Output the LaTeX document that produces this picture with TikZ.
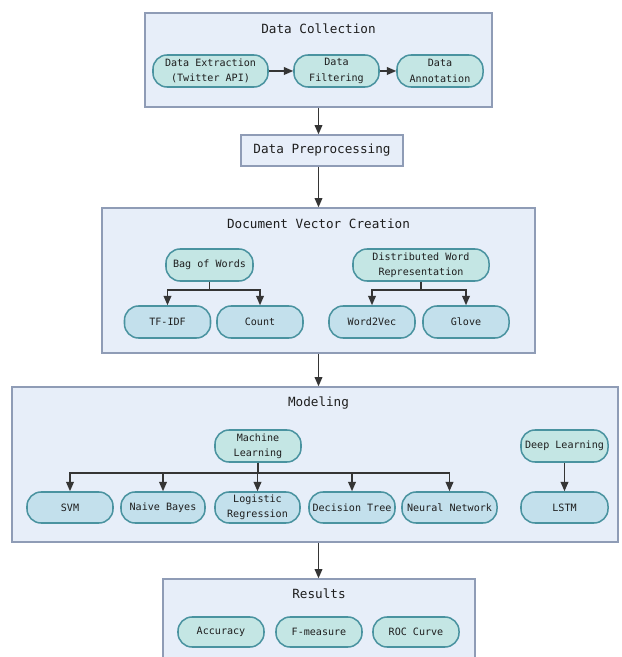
\documentclass[tikz,border=0pt]{standalone}
\usepackage{fontspec}
\setmonofont{DejaVu Sans Mono}
\usetikzlibrary{arrows.meta,positioning}
\definecolor{pnlfill}{HTML}{E7EEF9}
\definecolor{pnldraw}{HTML}{8F9CB6}
\definecolor{pillfill}{HTML}{C4E6E4}
\definecolor{leaffill}{HTML}{C3E0EC}
\definecolor{pilldraw}{HTML}{4A93A0}
\definecolor{txtdark}{HTML}{1E1E1E}
\tikzset{
  panel/.style={draw=pnldraw,fill=pnlfill,line width=1.1pt,inner sep=0pt},
  ptitle/.style={font=\ttfamily\fontsize{10.8}{13}\selectfont,text=txtdark,inner sep=1pt},
  pill/.style={rectangle,rounded corners=12pt,draw=pilldraw,fill=pillfill,line width=1.3pt,align=center,inner sep=1pt,minimum height=0.96cm,minimum width=2.58cm,font=\ttfamily\fontsize{8.6}{13}\selectfont,text=txtdark},
  leaf/.style={pill,fill=leaffill},
  ar/.style={-{Triangle[length=2.8mm,width=2.3mm]},draw=txtdark!90,line width=1.3pt},
}

\begin{document}
\begin{tikzpicture}[x=0.03cm,y=-0.03cm]
\fill[white] (0,0) rectangle (621,657);
\useasboundingbox (0,0) rectangle (621,657);
\clip (0,0) rectangle (621,657);
% panels
\node[panel,minimum width=10.41cm,minimum height=2.82cm] (dc) at (318.5,60) {};
\node[panel,ptitle,minimum width=4.86cm,minimum height=0.93cm] (pre) at (322,150.5) {Data Preprocessing};
\node[panel,minimum width=12.99cm,minimum height=4.35cm] (dvc) at (318.5,280.5) {};
\node[panel,minimum width=18.18cm,minimum height=4.65cm] (mod) at (315,464.5) {};
\node[panel,minimum width=9.36cm,minimum height=3.33cm] (res) at (319,634.5) {};
\node[ptitle] (dct) at (318.5,29) {Data Collection};
\node[ptitle] (dvct) at (318.5,224) {Document Vector Creation};
\node[ptitle] (modt) at (318.5,403) {Modeling};
\node[ptitle] (rest) at (319,594) {Results};
\draw[ar] (dc.south) -- (dc.south |- pre.north);
\draw[ar] (dc.south |- pre.south) -- (dc.south |- dvc.north);
\draw[ar] (dc.south |- dvc.south) -- (dc.south |- mod.north);
\draw[ar] (dc.south |- mod.south) -- (dc.south |- res.north);
% data collection
\node[pill,minimum width=3.45cm] (dext) at (210.5,71) {Data Extraction\\(Twitter API)};
\node[pill,minimum width=2.55cm] (dfil) at (336.5,71) {Data\\Filtering};
\node[pill] (dann) at (440,71) {Data\\Annotation};
\draw[ar] (dext) -- (dfil);
\draw[ar] (dfil) -- (dann);
% document vectors
\node[pill,minimum width=2.61cm] (bow) at (209.5,265) {Bag of Words};
\node[pill,minimum width=4.08cm] (dwr) at (421,265) {Distributed Word\\Representation};
\foreach \n/\x/\t/\p in {tfidf/167.5/TF-IDF/bow, count/260/Count/bow, w2v/372/Word2Vec/dwr, glove/466/Glove/dwr} {
  \node[leaf] (\n) at (\x,322) {\t};
  \draw[ar] (\p.south) -- ++(0,8) -| (\n.north);
}
% modeling
\node[pill] (ml) at (258,446) {Machine\\Learning};
\node[pill,minimum width=2.61cm] (dl) at (564.5,446) {Deep Learning};
\foreach \n/\x/\w/\t in {svm/70/2.58/SVM, nb/163/2.52/Naive Bayes, lr/257.5/2.55/{Logistic\\Regression}, dt/352/2.58/Decision Tree, nn/449.5/2.85/Neural Network} {
  \node[leaf,minimum width=\w cm,minimum height=0.93cm] (\n) at (\x,507.5) {\t};
  \draw[ar] (ml.south) -- ++(0,10) -| (\n.north);
}
\node[leaf,minimum width=2.61cm,minimum height=0.93cm] (lstm) at (564.5,507.5) {LSTM};
\draw[ar] (dl) -- (lstm);
% results
\foreach \n/\x/\t in {acc/221/Accuracy, fm/319/F-measure, roc/416/ROC Curve} {
  \node[pill,minimum height=0.9cm] (\n) at (\x,632) {\t};
}
\end{tikzpicture}
\end{document}
